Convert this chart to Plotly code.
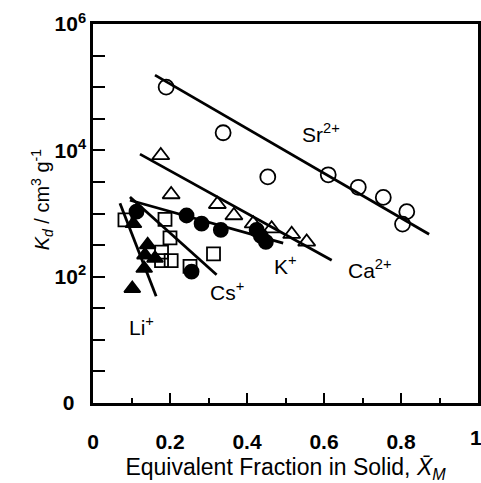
import plotly.graph_objects as go

# ---- data ----
sr_x = [0.190, 0.338, 0.454, 0.611, 0.689, 0.754, 0.815, 0.804]
sr_kd = [1.0e5, 1.9e4, 3.8e3, 4.1e3, 2.6e3, 1.8e3, 1.07e3, 6.8e2]
sr_fit_x = [0.161, 0.873]
sr_fit_kd = [1.55e5, 4.7e2]

ca_x = [0.176, 0.203, 0.323, 0.366, 0.416, 0.464, 0.516, 0.555]
ca_kd = [8.3e3, 2.0e3, 1.4e3, 9.3e2, 6.9e2, 5.75e2, 4.7e2, 3.55e2]
ca_fit_x = [0.122, 0.620]
ca_fit_kd = [8.7e3, 1.82e2]

k_x = [0.113, 0.243, 0.282, 0.332, 0.425, 0.436, 0.449, 0.256]
k_kd = [1.07e3, 9.3e2, 6.9e2, 5.5e2, 5.5e2, 4.4e2, 3.55e2, 1.2e2]
k_fit_x = [0.096, 0.494]
k_fit_kd = [1.62e3, 3.4e2]

cs_x = [0.083, 0.187, 0.200, 0.178, 0.178, 0.203, 0.313, 0.252]
cs_kd = [7.9e2, 8.1e2, 4.1e2, 2.45e2, 1.8e2, 1.8e2, 2.3e2, 1.45e2]
cs_fit_x = [0.096, 0.321]
cs_fit_kd = [1.82e3, 1.07e2]

li_x = [0.105, 0.142, 0.135, 0.161, 0.133, 0.102]
li_kd = [6.9e2, 3.2e2, 2.2e2, 1.95e2, 1.35e2, 6.5e1]
li_fit_x = [0.070, 0.164]
li_fit_kd = [1.45e3, 4.9e1]

x_tick_vals = [0, 0.2, 0.4, 0.6, 0.8]
x_tick_text = ["0", "0.2", "0.4", "0.6", "0.8"]
x_last_tick = (1, "1")
y_tick_exp = [0, 0.5, 1, 1.5, 2, 2.5, 3, 3.5, 4, 4.5, 5, 5.5, 6]
y_tick_text = ["0\u00a0\u00a0", "", "", "", "10<sup>2</sup>", "", "", "",
               "10<sup>4</sup>", "", "", "", "10<sup>6</sup>"]

labels = [
    ("Sr<sup>2+</sup>", 0.592, 4.27),
    ("Ca<sup>2+</sup>", 0.719, 2.12),
    ("K<sup>+</sup>", 0.499, 2.18),
    ("Cs<sup>+</sup>", 0.348, 1.77),
    ("Li<sup>+</sup>", 0.125, 1.22),
]

FONT = "Liberation Sans, Arial, sans-serif"
fig = go.Figure()

fits = [(sr_fit_x, sr_fit_kd), (ca_fit_x, ca_fit_kd), (k_fit_x, k_fit_kd),
        (cs_fit_x, cs_fit_kd), (li_fit_x, li_fit_kd)]
for fx, fy in fits:
    fig.add_trace(go.Scatter(x=fx, y=fy, mode="lines",
                             line=dict(color="black", width=2.8),
                             showlegend=False, hoverinfo="skip"))

series = [
    (cs_x, cs_kd, "square-open", 13),
    (li_x, li_kd, "triangle-up", 14),
    (k_x, k_kd, "circle", 14),
    (ca_x, ca_kd, "triangle-up-open", 15),
    (sr_x, sr_kd, "circle-open", 15),
]
for sx, sy, sym, sz in series:
    fig.add_trace(go.Scatter(
        x=sx, y=sy, mode="markers",
        marker=dict(symbol=sym, size=sz, color="black",
                    line=dict(color="black", width=1.8)),
        showlegend=False))

for txt, lx, ly in labels:
    fig.add_annotation(x=lx, y=ly, xref="x", yref="y", text=txt,
                       showarrow=False, font=dict(size=21, color="black", family=FONT))

# last x tick label, partly cut by the right edge as in the reference
fig.add_annotation(x=x_last_tick[0], y=0, xref="x", yref="paper", text=x_last_tick[1],
                   showarrow=False, yanchor="top", yshift=-21, xshift=-2,
                   font=dict(size=21, color="black", family=FONT, weight="bold"))

fig.add_annotation(
    x=-0.174, y=0.536, xref="paper", yref="paper", textangle=-90,
    text="<i>K</i><sub><i>d</i></sub> / cm<sup>3</sup> g<sup>-1</sup>",
    showarrow=False, font=dict(size=20, color="black", family=FONT))

fig.update_xaxes(
    range=[0, 1], showline=True, linecolor="black", linewidth=2.5, mirror=True,
    showgrid=False, zeroline=False,
    tickmode="array", tickvals=x_tick_vals, ticktext=x_tick_text,
    ticks="inside", ticklen=10, tickwidth=2, tickcolor="black",
    minor=dict(ticks="inside", ticklen=5, tickwidth=2, tickcolor="black", dtick=0.1),
    tickfont=dict(size=21, color="black", family=FONT, weight="bold"),
    ticklabelstandoff=18,
    title=dict(text="Equivalent Fraction in Solid, <i>X\u0304</i><sub><i>M</i></sub>",
               font=dict(size=23, color="black", family=FONT), standoff=9),
)
fig.update_yaxes(
    type="log", range=[0, 6], showline=True, linecolor="black", linewidth=2.5, mirror=True,
    showgrid=False, zeroline=False,
    tickmode="array", tickvals=[10 ** e for e in y_tick_exp], ticktext=y_tick_text,
    ticks="inside", ticklen=12, tickwidth=2, tickcolor="black",
    tickfont=dict(size=21, color="black", family=FONT, weight="bold"),
)
fig.update_layout(
    width=481, height=483, margin=dict(l=93, r=3, t=24, b=80, autoexpand=False),
    plot_bgcolor="white", paper_bgcolor="white", font=dict(family=FONT),
)
fig.write_html("out.html")
